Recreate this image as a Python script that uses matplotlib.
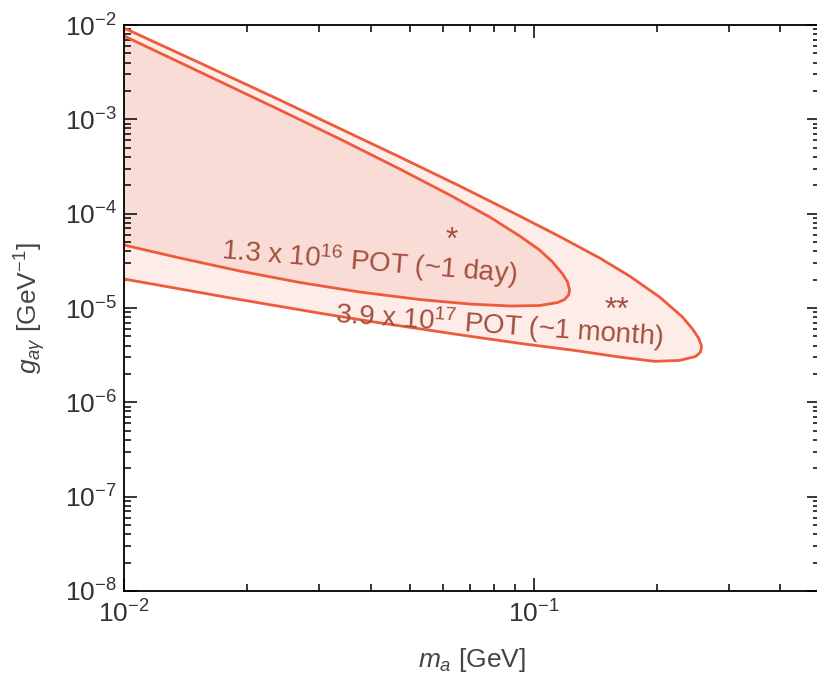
import numpy as np
import matplotlib.pyplot as plt

plt.rcParams['font.family'] = ['Liberation Sans', 'DejaVu Sans']
plt.rcParams['mathtext.fontset'] = 'custom'
plt.rcParams['mathtext.rm'] = 'Liberation Sans'
plt.rcParams['mathtext.it'] = 'Liberation Sans:italic'
plt.rcParams['mathtext.bf'] = 'Liberation Sans:bold'

# outer contour, 3.9e17 POT (~1 month): upper edge then lower edge back
month_m = [0.0100, 0.01532, 0.02401, 0.03363, 0.04711, 0.06599, 0.09244, 0.1157,
           0.1449, 0.1714, 0.2029, 0.2309, 0.2442, 0.2526, 0.2570,
           0.2555, 0.2484, 0.2270, 0.1973, 0.1621, 0.1259, 0.0951, 0.0718,
           0.0542, 0.0409, 0.0309, 0.02335, 0.01763, 0.01331, 0.0100]
month_g = [9.29e-3, 3.96e-3, 1.603e-3, 7.99e-4, 3.99e-4, 1.964e-4, 9.445e-5, 5.726e-5,
           3.389e-5, 2.183e-5, 1.308e-5, 8.02e-6, 5.99e-6, 4.81e-6, 3.95e-6,
           3.41e-6, 3.06e-6, 2.78e-6, 2.72e-6, 3.02e-6, 3.55e-6, 4.15e-6, 4.93e-6,
           5.91e-6, 7.10e-6, 8.64e-6, 1.062e-5, 1.308e-5, 1.628e-5, 2.03e-5]

# inner contour, 1.3e16 POT (~1 day)
day_m = [0.0100, 0.01532, 0.02401, 0.03363, 0.04711, 0.0624, 0.0781, 0.09244,
         0.1034, 0.1112, 0.1177, 0.1210, 0.1224,
         0.1217, 0.1190, 0.1144, 0.1034, 0.0874, 0.0698, 0.0527, 0.03765,
         0.0269, 0.01918, 0.01369, 0.0100]
day_g = [7.65e-3, 3.176e-3, 1.256e-3, 6.19e-4, 2.974e-4, 1.577e-4, 9.22e-5, 5.80e-5,
         4.12e-5, 3.07e-5, 2.29e-5, 1.886e-5, 1.551e-5,
         1.373e-5, 1.230e-5, 1.143e-5, 1.062e-5, 1.050e-5, 1.102e-5, 1.230e-5, 1.477e-5,
         1.863e-5, 2.466e-5, 3.389e-5, 4.65e-5]

line_col = '#ef5a3c'
text_col = '#a24f3e'

fig = plt.figure(figsize=(8.17, 6.78), dpi=100)
ax = fig.add_axes([124/817, 87/678, 696/817, 566/678])

ax.fill(month_m, month_g, color='#fdece8', lw=0)
ax.fill(day_m, day_g, color='#fadcd6', lw=0)
ax.plot(month_m, month_g, color=line_col, lw=2, solid_joinstyle='round')
ax.plot(day_m, day_g, color=line_col, lw=2, solid_joinstyle='round')

ax.text(0.0398, 3.08e-5, r'1.3 x 10$^{16}$ POT (~1 day)', color=text_col,
        fontsize=20, rotation=-4.7, ha='center', va='center')
ax.text(0.0826, 6.43e-6, r'3.9 x 10$^{17}$ POT (~1 month)', color=text_col,
        fontsize=20, rotation=-4, ha='center', va='center')
ax.text(0.0631, 5.1e-5, '*', color=text_col, fontsize=23, ha='center', va='center')
ax.text(0.1594, 9.3e-6, '**', color=text_col, fontsize=23, ha='center', va='center')

ax.set_xscale('log')
ax.set_yscale('log')
ax.set_xlim(1e-2, 0.5)
ax.set_ylim(1e-8, 1e-2)

ax.tick_params(which='both', direction='in', top=True, right=True,
               labelsize=19, labelcolor='#333333', width=1.1)
ax.tick_params(axis='x', pad=7)
ax.tick_params(axis='y', pad=5)
ax.tick_params(which='major', length=9.5)
ax.tick_params(which='minor', length=5)
for s in ax.spines.values():
    s.set_linewidth(1.3)

ax.set_xlabel(r'$m_a$ [GeV]', fontsize=19, color='#444444', labelpad=13)
ax.set_ylabel(r'$g_{a\gamma}$ [GeV$^{-1}$]', fontsize=19, color='#444444', labelpad=12)

fig.savefig('out.png', dpi=100)
